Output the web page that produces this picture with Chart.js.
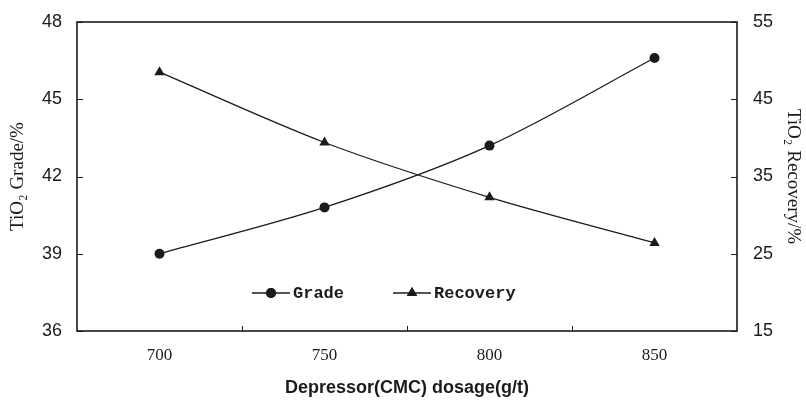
<!DOCTYPE html>
<html>
<head>
<meta charset="utf-8">
<script src="https://cdn.jsdelivr.net/npm/chart.js@4.4.0/dist/chart.umd.min.js"></script>
<style>
    html, body { margin: 0; padding: 0; background: #fff; }
    #wrap { width: 806px; height: 402px; }
</style>
</head>
<body>
<div id="wrap"><canvas id="chart" width="806" height="402"></canvas></div>
<script>
// dosage levels and measured results
const dosages = ['700', '750', '800', '850'];
const grade = [39.0, 40.8, 43.2, 46.6];
const recovery = [48.5, 39.4, 32.3, 26.4];

const INK = '#1b1b1b';

// inward tick marks + frame round the plot
const framePlugin = {
    id: 'frame',
    afterDraw(chart) {
        const { ctx, chartArea: a, scales } = chart;
        ctx.save();
        ctx.strokeStyle = INK;
        ctx.lineWidth = 1;

        const yl = scales.y;
        yl.ticks.forEach((t, i) => {
            const py = Math.round(yl.getPixelForTick(i)) + 0.5;
            ctx.beginPath(); ctx.moveTo(a.left, py); ctx.lineTo(a.left + 6, py); ctx.stroke();
        });
        const yr = scales.y1;
        yr.ticks.forEach((t, i) => {
            const py = Math.round(yr.getPixelForTick(i)) + 0.5;
            ctx.beginPath(); ctx.moveTo(a.right, py); ctx.lineTo(a.right - 6, py); ctx.stroke();
        });
        const xs = scales.x;
        for (let i = 1; i < xs.ticks.length; i++) {
            const px = Math.round((xs.getPixelForTick(i - 1) + xs.getPixelForTick(i)) / 2) + 0.5;
            ctx.beginPath(); ctx.moveTo(px, a.bottom); ctx.lineTo(px, a.bottom - 5); ctx.stroke();
        }

        ctx.lineWidth = 1.6;
        ctx.strokeRect(a.left, a.top, a.right - a.left, a.bottom - a.top);
        ctx.restore();
    }
};

// legend drawn inside the plot, line-marker-line style
const innerLegend = {
    id: 'innerLegend',
    afterDraw(chart) {
        const { ctx } = chart;
        const y = 293;
        const items = [
            { x: 252, style: 'circle', label: 'Grade' },
            { x: 393, style: 'triangle', label: 'Recovery' }
        ];
        ctx.save();
        ctx.strokeStyle = INK;
        ctx.fillStyle = INK;
        ctx.lineWidth = 1.3;
        ctx.font = 'bold 17px "Liberation Mono", "DejaVu Sans Mono", monospace';
        ctx.textBaseline = 'middle';
        items.forEach(it => {
            ctx.beginPath(); ctx.moveTo(it.x, y); ctx.lineTo(it.x + 38, y); ctx.stroke();
            Chart.helpers.drawPoint(ctx, { pointStyle: it.style, radius: it.style === 'circle' ? 5 : 6, rotation: 0, borderWidth: 0 }, it.x + 19, y);
            ctx.fill();
            ctx.fillText(it.label, it.x + 41, y + 1);
        });
        ctx.restore();
    }
};

new Chart(document.getElementById('chart'), {
    type: 'line',
    data: {
        labels: dosages,
        datasets: [
            {
                label: 'Grade',
                data: grade,
                yAxisID: 'y',
                borderColor: INK,
                backgroundColor: INK,
                borderWidth: 1.3,
                pointStyle: 'circle',
                pointRadius: 5,
                pointBorderWidth: 0,
                tension: 0.3
            },
            {
                label: 'Recovery',
                data: recovery,
                yAxisID: 'y1',
                borderColor: INK,
                backgroundColor: INK,
                borderWidth: 1.3,
                pointStyle: 'triangle',
                pointRadius: 6,
                pointBorderWidth: 0,
                tension: 0.3
            }
        ]
    },
    options: {
        responsive: false,
        animation: false,
        layout: { padding: { top: 22, left: 0, right: 0, bottom: 0 } },
        plugins: {
            legend: { display: false },
            tooltip: { enabled: false }
        },
        scales: {
            x: {
                type: 'category',
                offset: true,
                grid: { display: false, drawTicks: false },
                border: { display: false },
                ticks: {
                    color: INK,
                    padding: 14,
                    font: { family: "'Liberation Serif', serif", size: 17 }
                },
                title: {
                    display: true,
                    text: 'Depressor(CMC) dosage(g/t)',
                    color: INK,
                    padding: { top: 0, bottom: 3 },
                    font: { family: "'Liberation Sans', Arial, sans-serif", size: 18, weight: 'bold' }
                },
                afterFit(scale) { scale.height = 71; }
            },
            y: {
                position: 'left',
                min: 36,
                max: 48,
                grid: { display: false, drawTicks: false },
                border: { display: false },
                ticks: {
                    stepSize: 3,
                    color: INK,
                    padding: 15,
                    font: { family: "'Liberation Sans', Arial, sans-serif", size: 18 }
                },
                title: {
                    display: true,
                    text: 'TiO₂ Grade/%',
                    color: INK,
                    padding: { top: 7, bottom: 0 },
                    font: { family: "'Liberation Serif', serif", size: 19 }
                },
                afterFit(scale) { scale.width = 77; scale.paddingTop = 0; }
            },
            y1: {
                position: 'right',
                min: 15,
                max: 55,
                grid: { display: false, drawTicks: false },
                border: { display: false },
                ticks: {
                    stepSize: 10,
                    color: INK,
                    padding: 16,
                    font: { family: "'Liberation Sans', Arial, sans-serif", size: 18 }
                },
                title: {
                    display: true,
                    text: 'TiO₂ Recovery/%',
                    color: INK,
                    padding: { top: 2, bottom: 0 },
                    font: { family: "'Liberation Serif', serif", size: 19 }
                },
                afterFit(scale) { scale.width = 69; scale.paddingTop = 0; }
            }
        }
    },
    plugins: [framePlugin, innerLegend]
});
</script>
</body>
</html>
